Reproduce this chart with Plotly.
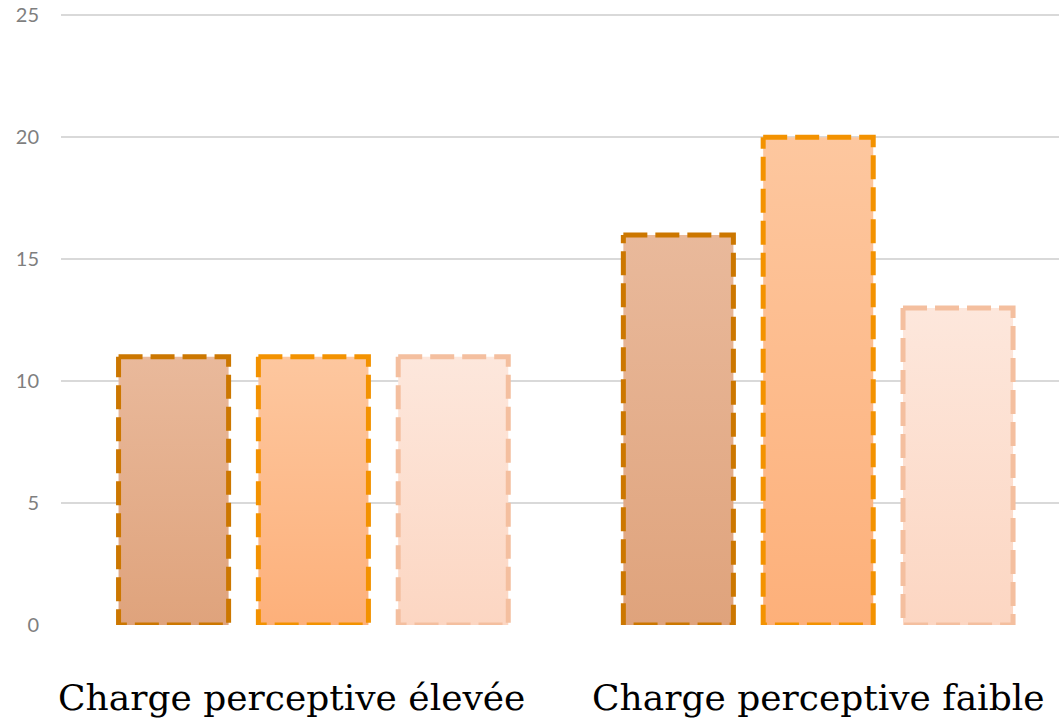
import plotly.graph_objects as go

categories = ["Charge perceptive élevée", "Charge perceptive faible"]
series_1 = [11, 16]
series_2 = [11, 20]
series_3 = [11, 13]
y_ticks = [0, 5, 10, 15, 20, 25]

series = [series_1, series_2, series_3]
border_colors = ["#CC7700", "#F39200", "#F4BF9F"]
fill_scales = [
    [[0, "#DFA37C"], [1, "#E9B99B"]],
    [[0, "#FDB07A"], [1, "#FDC79F"]],
    [[0, "#FCD6C2"], [1, "#FDE7DC"]],
]
offsets = [-0.277, 0.0, 0.277]
bar_w = 0.218
label_xshift = [-22, 0]

fig = go.Figure()
for j, vals in enumerate(series):
    for i, v in enumerate(vals):
        xc = i + offsets[j]
        x0, x1 = xc - bar_w / 2, xc + bar_w / 2
        fig.add_trace(go.Scatter(
            x=[x0, x1, x1, x0, x0],
            y=[v, v, 0, 0, v],
            mode="lines",
            fill="toself",
            fillgradient=dict(type="vertical", colorscale=fill_scales[j]),
            line=dict(color=border_colors[j], width=5, dash="24px,8px"),
            hoverinfo="skip",
            showlegend=False,
        ))

for i, c in enumerate(categories):
    fig.add_annotation(
        x=i, y=0, xref="x", yref="y", text=c, showarrow=False,
        yanchor="top", yshift=-50, xshift=label_xshift[i],
        font=dict(family="DejaVu Serif", size=36, color="#000000"),
    )

fig.update_layout(
    width=1059, height=726,
    margin=dict(l=61, r=0, t=13, b=101),
    plot_bgcolor="white", paper_bgcolor="white",
    showlegend=False,
)
fig.update_xaxes(range=[-0.5, 1.477], showticklabels=False, showgrid=False,
                 zeroline=False, showline=False, automargin=False)
fig.update_yaxes(range=[0, 25.1], tickvals=y_ticks, showgrid=True,
                 gridcolor="#D9D9D9", gridwidth=2, zeroline=False,
                 showline=False, ticklabelstandoff=21, ticklabeloverflow="allow",
                 automargin=False,
                 tickfont=dict(family="Lato", size=20, color="#7F7F7F"))

fig.write_html("out.html",
               config={"displayModeBar": False},
               post_script="document.body.style.margin='0';document.body.style.overflow='hidden';")
